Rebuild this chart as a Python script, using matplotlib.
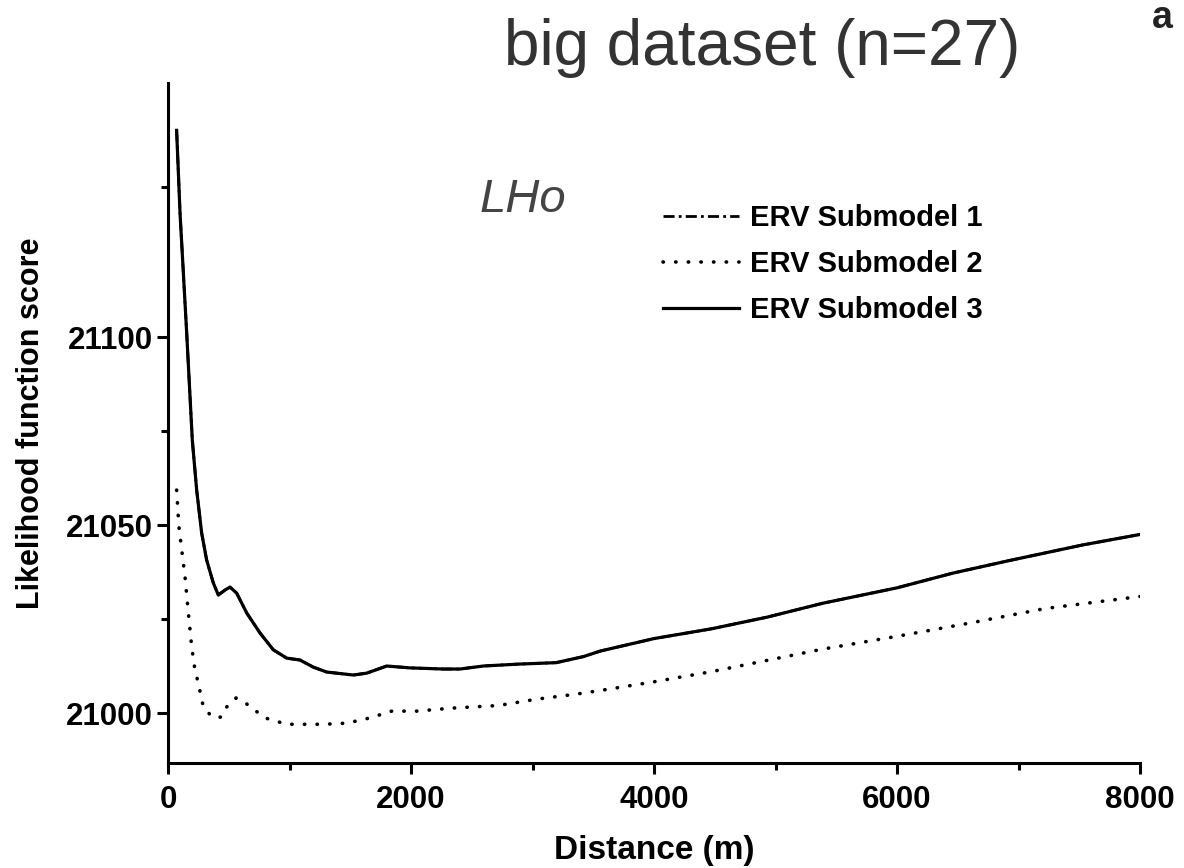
import numpy as np
import matplotlib.pyplot as plt
from matplotlib.ticker import FixedLocator

# distances (m) and likelihood scores
dist_sub3 = [71, 99, 154, 200, 236, 277, 318, 373, 414, 469, 510, 565, 648, 757, 867,
             977, 1086, 1196, 1306, 1525, 1635, 1800, 1992, 2266, 2403, 2595, 2880,
             3196, 3418, 3560, 4000, 4473, 4931, 5389, 6000, 6458, 6916, 7527, 8000]
score_sub3 = [21155, 21133, 21101, 21072.6, 21059.3, 21047.9, 21040.7, 21034.6, 21031.4,
              21032.7, 21033.5, 21031.9, 21026.6, 21021.3, 21016.8, 21014.6, 21014.1,
              21012.2, 21010.9, 21010.1, 21010.6, 21012.5, 21012, 21011.7, 21011.7,
              21012.5, 21013, 21013.4, 21015, 21016.5, 21019.8, 21022.4, 21025.5,
              21029.2, 21033.3, 21037.2, 21040.5, 21044.7, 21047.5]

# submodel 1 lies right under submodel 3
dist_sub1 = dist_sub3
score_sub1 = score_sub3

dist_sub2 = [71, 90, 113, 140, 167, 195, 222, 249, 291, 364, 436, 483, 560, 648, 798,
             977, 1278, 1471, 1663, 1841, 2046, 2335, 2722, 3038, 3354, 3560, 4000,
             4473, 4931, 5389, 6000, 6611, 7221, 8000]
score_sub2 = [21059.3, 21049.5, 21043.4, 21036.2, 21026.9, 21017.6, 21011.4, 21008,
              21001.6, 20998.9, 20998.9, 21001.6, 21004, 21002.4, 20998.7, 20997,
              20997, 20997.3, 20998.7, 21000.5, 21000.5, 21001.3, 21002, 21003.7,
              21005, 21006, 21008.3, 21011, 21014, 21017, 21020.4, 21024, 21027.8, 21031]

labels = ["ERV Submodel 1", "ERV Submodel 2", "ERV Submodel 3"]
x_major = [0, 2000, 4000, 6000, 8000]
x_minor = [1000, 3000, 5000, 7000]
y_major = [21000, 21050, 21100]
y_minor = [21025, 21075, 21140]

plt.rcParams['font.family'] = ['Liberation Sans', 'DejaVu Sans']

fig = plt.figure(figsize=(11.84, 8.68), dpi=100)
ax = fig.add_axes([168/1184, 1-763/868, (1140-168)/1184, (763-83)/868])

ax.plot(dist_sub1, score_sub1, color='black', lw=2, linestyle=(0, (4, 1.5, 1, 1.5)), label=labels[0])
ax.plot(dist_sub2, score_sub2, color='black', lw=2.6, linestyle=(0, (0.1, 3.4)),
        dash_capstyle='round', label=labels[1])
ax.plot(dist_sub3, score_sub3, color='black', lw=2.3, label=labels[2])

ax.set_xlim(0, 8000)
ax.set_ylim(20986.7, 21167.6)
ax.xaxis.set_major_locator(FixedLocator(x_major))
ax.xaxis.set_minor_locator(FixedLocator(x_minor))
ax.yaxis.set_major_locator(FixedLocator(y_major))
ax.yaxis.set_minor_locator(FixedLocator(y_minor))

for s in ['top', 'right']:
    ax.spines[s].set_visible(False)
for s in ['left', 'bottom']:
    ax.spines[s].set_linewidth(2.2)
ax.tick_params(which='major', length=8, width=2.2, labelsize=22.5)
ax.tick_params(axis='x', which='major', pad=8)
ax.tick_params(axis='y', which='major', pad=3)
ax.tick_params(which='minor', length=5, width=2.2)
for lab in ax.get_xticklabels() + ax.get_yticklabels():
    lab.set_fontweight('bold')

ax.set_xlabel("Distance (m)", fontsize=24, fontweight='bold', labelpad=14)
ax.set_ylabel("Likelihood function score", fontsize=22, fontweight='bold', labelpad=14)

leg = ax.legend(loc='upper left', bbox_to_anchor=(663/1184, 1-204/868), bbox_transform=fig.transFigure,
                frameon=False, prop={'size': 21, 'weight': 'bold'}, handlelength=2.6,
                handletextpad=0.4, labelspacing=0.62, borderpad=0, borderaxespad=0)

fig.text(762/1184, 1-48/868, "big dataset (n=27)", fontsize=46, color='#333333',
         ha='center', va='center')
fig.text(1162/1184, 1-18/868, "a", fontsize=27, fontweight='bold', color='#222222', ha='center', va='center')
ax.text(523/1184, 1-200/868, "LHo", fontsize=34, style='italic', color='#444444',
        transform=fig.transFigure, ha='center', va='center')

fig.savefig("out.png", dpi=100)
